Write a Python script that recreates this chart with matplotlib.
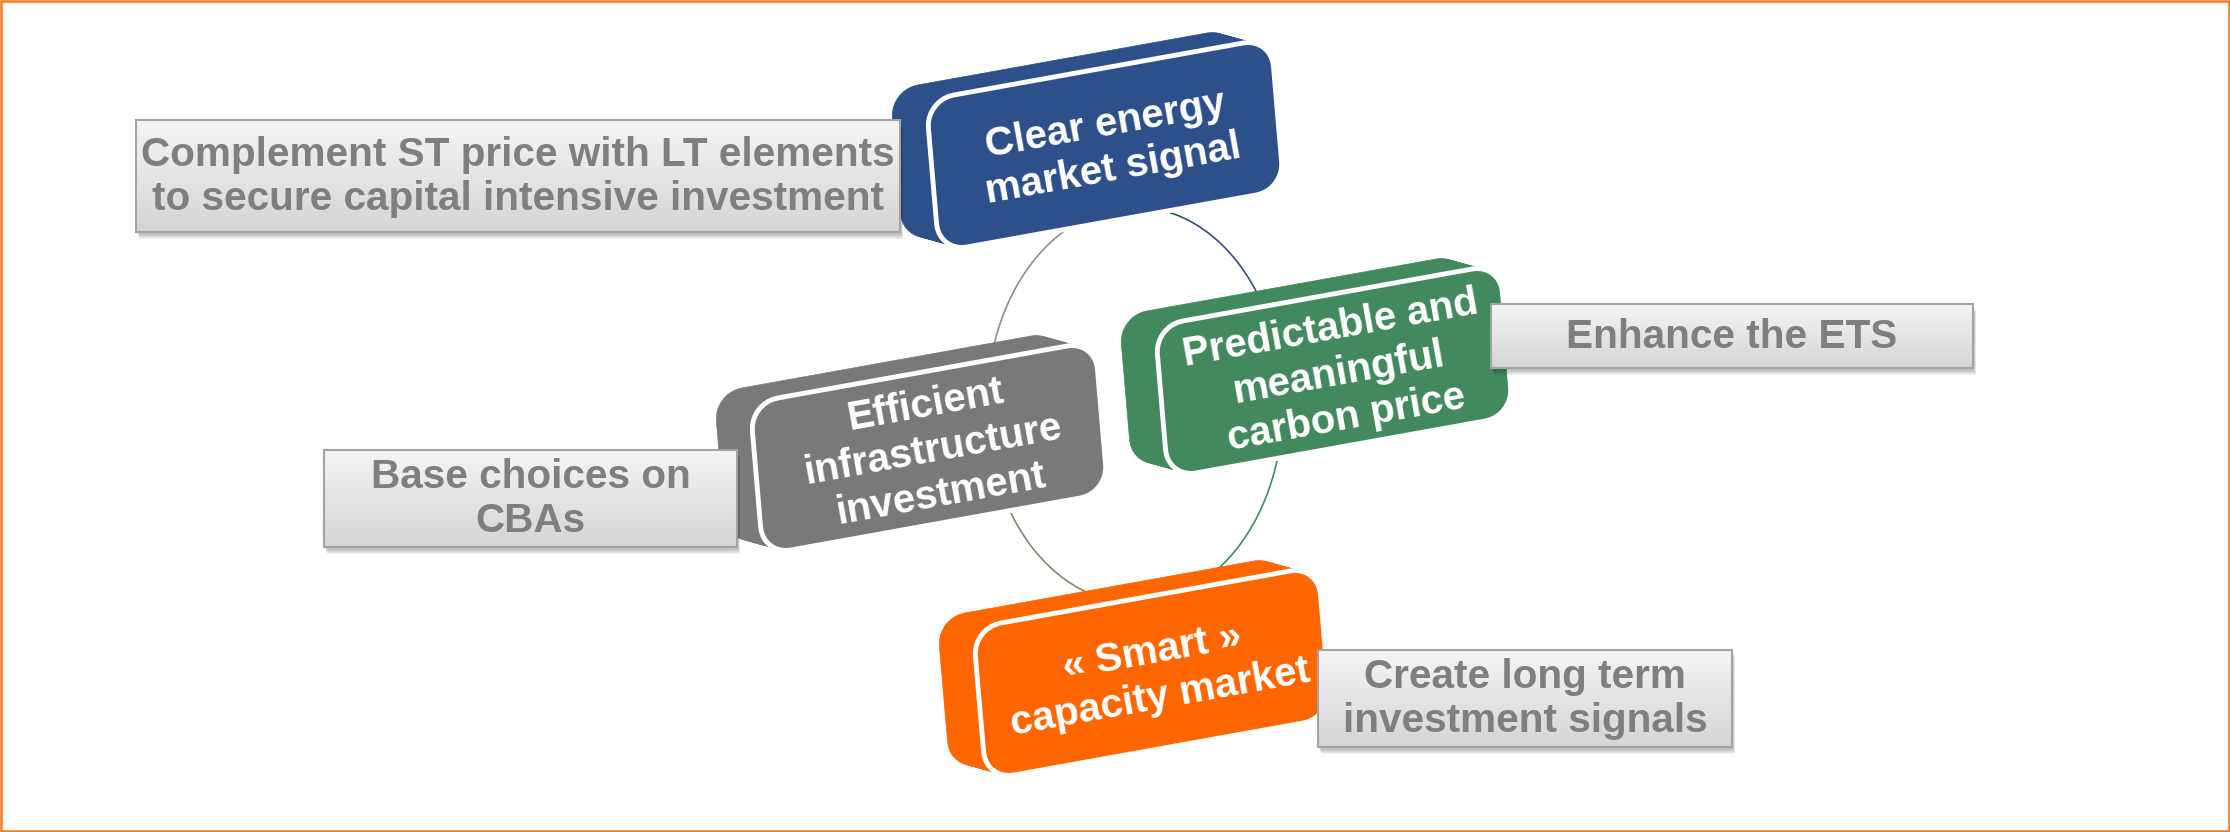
import numpy as np
import matplotlib.pyplot as plt
from matplotlib.patches import Polygon, Rectangle
from matplotlib.colors import LinearSegmentedColormap

plt.rcParams['font.family'] = ['Liberation Sans', 'DejaVu Sans']

# блоки цикла
cycle_labels = ["Clear energy\nmarket signal",
                "Predictable and\nmeaningful\ncarbon price",
                "Efficient\ninfrastructure\ninvestment",
                "« Smart »\ncapacity market"]
cycle_colors = ['#2D4F8A', '#428A5E', '#797979', '#FF6600']
cycle_corner = [(926, 100), (1155, 326), (750, 403), (973, 628)]  # левый верхний угол лицевой грани

# серые подписи
note_labels = ["Complement ST price with LT elements\nto secure capital intensive investment",
               "Enhance the ETS",
               "Base choices on\nCBAs",
               "Create long term\ninvestment signals"]
note_boxes = [(136, 120, 900, 232), (1491, 304, 1973, 368),
              (324, 450, 737, 547), (1318, 650, 1732, 747)]

# дуги между блоками
arc_colors = ['#2D4F8A', '#428A5E', '#7C8B6C', '#8E8E8E']

E1 = np.array([345., -62.])   # верхняя грань
E2 = np.array([13., 152.])    # боковая грань
DEPTH = np.array([-36., -10.])


def rounded_shape(x0, y0, r=28, n=10):
    W = np.hypot(*E1)
    H = np.hypot(*E2)
    pts = []
    for cu, cv, a0 in [(W - r, r, -90), (W - r, H - r, 0), (r, H - r, 90), (r, r, 180)]:
        t = np.radians(np.linspace(a0, a0 + 90, n))
        pts += list(zip(cu + r * np.cos(t), cv + r * np.sin(t)))
    pts = np.array(pts)
    xy = np.array([x0, y0]) + np.outer(pts[:, 0], E1 / W) + np.outer(pts[:, 1], E2 / H)
    return xy


fig = plt.figure(figsize=(22.3, 8.32), dpi=100)
ax = fig.add_axes([0, 0, 1, 1])

# эллипс из дуг
cx, cy, a, b = 1135, 405, 148, 198
for i, col in enumerate(arc_colors):
    t = np.radians(np.linspace(-90 + 90 * i, 90 * i, 60))
    ax.plot(cx + a * np.cos(t), cy + b * np.sin(t), color=col, lw=1.2, zorder=1)

# объёмные плашки
angle = np.degrees(np.arctan2(-E1[1], E1[0]))
for lab, col, (x0, y0) in zip(cycle_labels, cycle_colors, cycle_corner):
    for k in np.linspace(1, 0.05, 14):
        sh = rounded_shape(x0 + k * DEPTH[0], y0 + k * DEPTH[1])
        ax.add_patch(Polygon(sh, closed=True, facecolor=col, edgecolor=col, lw=0.5, zorder=2))
    front = rounded_shape(x0, y0)
    ax.add_patch(Polygon(front, closed=True, facecolor=col, edgecolor='white', lw=3.5, zorder=3))
    c = np.array([x0, y0]) + E1 / 2 + E2 / 2 + np.array([4, 2])
    ax.text(c[0], c[1], lab, rotation=angle, rotation_mode='anchor', ha='center', va='center',
            multialignment='center', fontsize=29, fontweight='bold', color='white',
            linespacing=1.25, zorder=4)

# серые прямоугольники с градиентом
cmap = LinearSegmentedColormap.from_list('g', ['#F5F5F5', '#D5D5D5'])
grad = np.linspace(0, 1, 200).reshape(-1, 1)
for lab, (x0, y0, x1, y1) in zip(note_labels, note_boxes):
    for j in range(5):
        ax.add_patch(Rectangle((x0 + 1 + j * 0.5, y0 + 3 + j), x1 - x0, y1 - y0,
                               facecolor='#000000', alpha=0.05, lw=0, zorder=5))
    rect = Rectangle((x0, y0), x1 - x0, y1 - y0, facecolor='none', edgecolor='#A3A3A3',
                     lw=1.5, zorder=7)
    ax.add_patch(rect)
    im = ax.imshow(grad, cmap=cmap, extent=(x0, x1, y1, y0), aspect='auto', zorder=6)
    im.set_clip_path(rect)
    ax.text((x0 + x1) / 2, (y0 + y1) / 2 + 1, lab, ha='center', va='center',
            multialignment='center', fontsize=29.2, fontweight='bold', color='#7F7F7F',
            linespacing=1.2, zorder=8)

# оранжевая рамка
ax.add_patch(Rectangle((1, 1), 2228, 830, facecolor='none', edgecolor='#F47B20', lw=1.8, zorder=9))

ax.set_xlim(0, 2230)
ax.set_ylim(832, 0)
ax.axis('off')
fig.savefig('out.png', dpi=100)
